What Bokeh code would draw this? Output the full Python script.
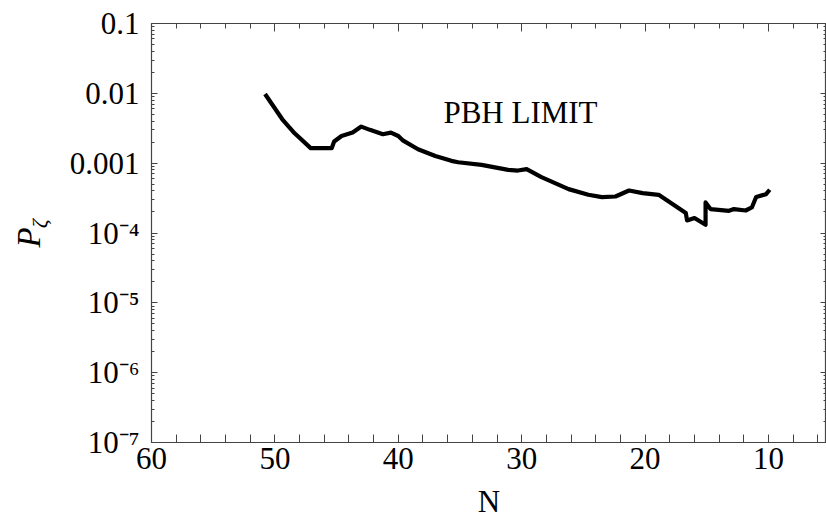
import math
from bokeh.plotting import figure
from bokeh.layouts import row
from bokeh.models import (Range1d, FixedTicker, LinearAxis, LogAxis, Label,
                          CustomJSTickFormatter, ColumnDataSource)
from bokeh.embed import file_html
from bokeh.resources import INLINE

# ---- data ----
N = [50.8, 49.4, 48.4, 47.1, 45.4, 45.2, 44.6, 43.7, 43.0, 42.3, 41.25, 40.6,
     40.0, 39.6, 38.4, 37.0, 35.7, 35.15, 33.25, 31.1, 30.3, 29.6, 28.4, 26.2,
     24.6, 23.5, 22.4, 21.3, 20.2, 18.9, 16.7, 16.6, 16.0, 15.1, 15.1, 14.7,
     13.2, 12.8, 11.85, 11.35, 11.0, 10.2, 9.9]
P = [0.0098, 0.00425, 0.00268, 0.00164, 0.00164, 0.00204, 0.00245, 0.00274,
     0.00334, 0.0030, 0.0026, 0.00274, 0.00245, 0.0021, 0.00158, 0.00127,
     0.00108, 0.00103, 0.000946, 0.000802, 0.000784, 0.00082, 0.00063,
     0.000425, 0.000353, 0.000327, 0.000333, 0.000406, 0.000372, 0.000352,
     0.000193, 0.000151, 0.000164, 0.000131, 0.000274, 0.00022, 0.000208,
     0.00022, 0.00021, 0.000232, 0.000327, 0.00036, 0.000416]

x_ticks = [60, 50, 40, 30, 20, 10]
x_minor = [58, 56, 54, 52, 48, 46, 44, 42, 38, 36, 34, 32, 28, 26, 24, 22,
           18, 16, 14, 12, 8, 6]
y_ticks = [1e-7, 1e-6, 1e-5, 1e-4, 1e-3, 1e-2, 1e-1]
y_tick_labels = ["10\u207b\u2077", "10\u207b\u2076", "10\u207b\u2075",
                 "10\u207b\u2074", "0.001", "0.01", "0.1"]
y_minor = [m * d for d in [1e-7, 1e-6, 1e-5, 1e-4, 1e-3, 1e-2] for m in range(2, 10)]

FONT = "Liberation Serif"
FRAME = "#444444"

p = figure(width=766, height=521, output_backend="svg", toolbar_location=None,
           y_axis_type="log", x_range=Range1d(60, 5.3), y_range=Range1d(1e-7, 0.1),
           min_border_left=91, min_border_right=0, min_border_top=23,
           min_border_bottom=79, x_axis_location=None, y_axis_location=None)
p.grid.visible = False
p.outline_line_color = FRAME
p.outline_line_width = 1.2
p.background_fill_color = "white"
p.border_fill_color = "white"

src = ColumnDataSource(dict(x=N, y=P))
p.line("x", "y", source=src, line_color="black", line_width=4.2,
       line_join="round", line_cap="butt")

def style_axis(ax, tick_in, minor_in, labels=True, size="31px"):
    ax.axis_line_color = None
    ax.major_tick_line_color = FRAME
    ax.minor_tick_line_color = FRAME
    ax.major_tick_in = tick_in
    ax.major_tick_out = 0
    ax.minor_tick_in = minor_in
    ax.minor_tick_out = 0
    ax.major_label_text_font = FONT
    if labels:
        ax.major_label_text_color = "black"
        ax.major_label_text_font_size = size
    else:
        ax.major_label_text_color = None
        ax.major_label_text_font_size = "2px"
        ax.major_label_standoff = 0

xtick = FixedTicker(ticks=x_ticks, minor_ticks=x_minor)
ytick = FixedTicker(ticks=y_ticks, minor_ticks=y_minor)

yfmt = CustomJSTickFormatter(args=dict(vals=y_ticks, labels=y_tick_labels), code="""
const e = Math.log10(tick);
for (let i = 0; i < vals.length; i++) {
  if (Math.abs(Math.log10(vals[i]) - e) < 1e-6) return labels[i];
}
return '';
""")

bottom = LinearAxis(ticker=xtick)
style_axis(bottom, 8, 8)
bottom.major_label_standoff = 5
bottom.axis_label = "N"
bottom.axis_label_text_font = FONT
bottom.axis_label_text_font_size = "31px"
bottom.axis_label_text_font_style = "normal"
bottom.axis_label_text_color = "black"
bottom.axis_label_standoff = 12
p.add_layout(bottom, "below")

top = LinearAxis(ticker=xtick)
style_axis(top, 8, 5, labels=False)
p.add_layout(top, "above")

left = LogAxis(ticker=ytick, formatter=yfmt)
style_axis(left, 6, 3)
left.major_label_standoff = 12
p.add_layout(left, "left")

right = LogAxis(ticker=ytick)
style_axis(right, 6, 3, labels=False)
p.add_layout(right, "right")

p.add_layout(Label(x=30.1, y=0.0054, text="PBH LIMIT", text_font=FONT,
                   text_font_size="31px", text_align="center",
                   text_baseline="middle", text_color="black"))

# narrow panel holding the rotated y-axis title  P_zeta
lab = figure(width=60, height=521, output_backend="svg", toolbar_location=None,
             x_range=Range1d(0, 60), y_range=Range1d(0, 521),
             min_border=0, min_border_left=0, min_border_right=0,
             min_border_top=0, min_border_bottom=0,
             x_axis_location=None, y_axis_location=None)
lab.grid.visible = False
lab.outline_line_color = None
lab.background_fill_color = "white"
lab.border_fill_color = "white"
lab.add_layout(Label(x=28, y=255, text="P", text_font=FONT,
                     text_font_size="33px", text_font_style="italic",
                     text_align="center", text_baseline="middle",
                     angle=math.pi / 2, text_color="black"))
lab.add_layout(Label(x=39, y=272, text="\u03b6", text_font=FONT,
                     text_font_size="22px", text_font_style="italic",
                     text_align="center", text_baseline="middle",
                     angle=math.pi / 2, text_color="black"))

layout = row(lab, p, spacing=0)
open("out.html", "w").write(file_html(layout, INLINE))
